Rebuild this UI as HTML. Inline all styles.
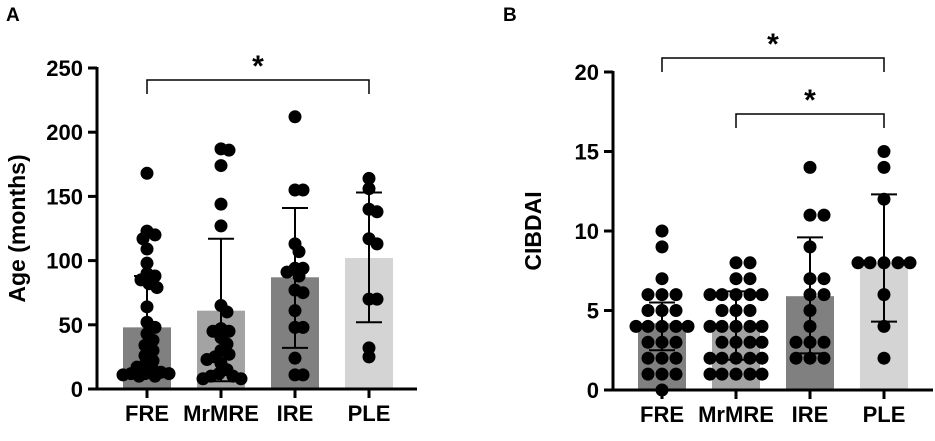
<!DOCTYPE html>
<html><head><meta charset="utf-8"><style>
body{margin:0;background:#fff;width:935px;height:436px;overflow:hidden}
svg text{font-family:"Liberation Sans",Arial,sans-serif;font-weight:bold;fill:#000}
</style></head><body>
<svg id="s" width="935" height="436" xmlns="http://www.w3.org/2000/svg"></svg>
<script>
const categories=["FRE","MrMRE","IRE","PLE"];
const colors=["#808080","#a3a3a3","#808080","#d4d4d4"];
const meanA=[48,61,87,102];
const sdHiA=[88,117,141,153];
const sdLoA=[9,6,32,52];
const dotsA=[
[168,123,120,117,109,98,90,88,85,82,79,64,52,48,43,38,34,30,26,22,19,17,15,13,12,12,12,11,10,10],
[187,186,174,144,127,65,60,47,45,45,40,35,30,27,25,23,20,15,12,10,10,8,8],
[212,155,155,113,107,94,94,91,88,77,75,61,48,48,24,11,11],
[164,156,140,138,117,113,70,70,32,25]];
const ticksA=[0,50,100,150,200,250];
const meanB=[4.2,4,5.9,8];
const sdHiB=[5.5,6.2,9.6,12.3];
const sdLoB=[2.5,1.9,2.3,4.3];
const dotsB=[
[10,9,7,6,6,6,5,5,5,4,4,4,4,4,3,3,3,2,2,2,1,1,1,0],
[8,8,7,7,6,6,6,6,6,5,5,5,4,4,4,4,4,3,3,3,3,2,2,2,2,2,1,1,1,1,1],
[14,11,11,9,7,7,6,6,5,4,3,3,3,2,2,2],
[15,14,12,8,8,8,8,8,6,4,2]];
const ticksB=[0,5,10,15,20];

const S=document.getElementById('s');const NS='http://www.w3.org/2000/svg';
function mk(t,a,txt){const e=document.createElementNS(NS,t);for(const k in a)e.setAttribute(k,a[k]);if(txt!==undefined)e.textContent=txt;S.appendChild(e);return e;}

function panel(o){
  const y=v=>o.y0-(v-o.vmin)*o.scale;
  const x=i=>o.x0+i*74;
  let e;
  categories.forEach((c,i)=>{
    e=mk('rect',{x:x(i)-24,y:y(o.mean[i]),width:48,height:y(0)-y(o.mean[i]),fill:colors[i]});
    
    
  });
  const r=6.5;
  categories.forEach((c,i)=>{
    const placed=[];
    o.dots[i].forEach(v=>{
      const py=y(v);let best=0,bestD=-1;
      for(let k=0;k<=26;k++){
        const cand=(k%2?1:-1)*Math.ceil(k/2)*2;
        if(Math.abs(cand)>26)break;
        const d=placed.length?Math.min(...placed.map(p=>Math.hypot(p[0]-cand,p[1]-py))):999;
        if(d>=o.md){best=cand;bestD=d;break;}
        if(d>bestD){bestD=d;best=cand;}
      }
      placed.push([best,py]);
      e=mk('circle',{cx:x(i)+best,cy:py,r:r,fill:'#000'});
      
      
    });
  });
  categories.forEach((c,i)=>{
    const g=mk('g',{stroke:'#000','stroke-width':2});
    
    
    [[x(i),y(o.hi[i]),x(i),y(o.lo[i])],[x(i)-13,y(o.hi[i]),x(i)+13,y(o.hi[i])],[x(i)-13,y(o.lo[i]),x(i)+13,y(o.lo[i])]].forEach(l=>{
      const ln=document.createElementNS(NS,'line');ln.setAttribute('x1',l[0]);ln.setAttribute('y1',l[1]);ln.setAttribute('x2',l[2]);ln.setAttribute('y2',l[3]);g.appendChild(ln);});
  });
  e=mk('line',{x1:o.ax,y1:y(o.ticks[o.ticks.length-1])-1,x2:o.ax,y2:y(0)+1.5,stroke:'#000','stroke-width':3});
  
  e=mk('line',{x1:o.ax-1.5,y1:y(0),x2:o.ax+320,y2:y(0),stroke:'#000','stroke-width':3});
  
  o.ticks.forEach(t=>{
    mk('line',{x1:o.ax-9,y1:y(t),x2:o.ax,y2:y(t),stroke:'#000','stroke-width':3});
    e=mk('text',{x:o.ax-14,y:y(t)+8,'text-anchor':'end','font-size':22},t);
    
  });
  categories.forEach((c,i)=>{
    mk('line',{x1:x(i),y1:y(0),x2:x(i),y2:y(0)+9,stroke:'#000','stroke-width':3});
    e=mk('text',{x:x(i),y:y(0)+32,'text-anchor':'middle','font-size':22},c);
    
  });
  e=mk('text',{x:0,y:0,'text-anchor':'middle','font-size':23,transform:`translate(${o.ax-72},${(y(0)+y(o.ticks[o.ticks.length-1]))/2}) rotate(-90)`},o.title);
  
  e=mk('text',{x:o.lx,y:21,'font-size':19},o.letter);
  
  o.sig.forEach(s=>{
    const g=mk('path',{d:`M${x(s[0])},${s[2]+14}V${s[2]}H${x(s[1])}V${s[2]+14}`,fill:'none',stroke:'#000','stroke-width':1.5});
    
    e=mk('text',{x:(x(s[0])+x(s[1]))/2,y:s[2]-4,'text-anchor':'middle','font-size':30},'*');
    
  });
}
panel({id:'a',letter:'A',lx:6,x0:147,ax:97,y0:389,vmin:0,scale:1.284,md:8,mean:meanA,hi:sdHiA,lo:sdLoA,dots:dotsA,ticks:ticksA,title:'Age (months)',sig:[[0,3,80]]});
panel({id:'b',letter:'B',lx:503,x0:662,ax:613,y0:390,vmin:0,scale:15.9,md:12.5,mean:meanB,hi:sdHiB,lo:sdLoB,dots:dotsB,ticks:ticksB,title:'CIBDAI',sig:[[0,3,58],[1,3,114]]});
</script>
</body></html>
